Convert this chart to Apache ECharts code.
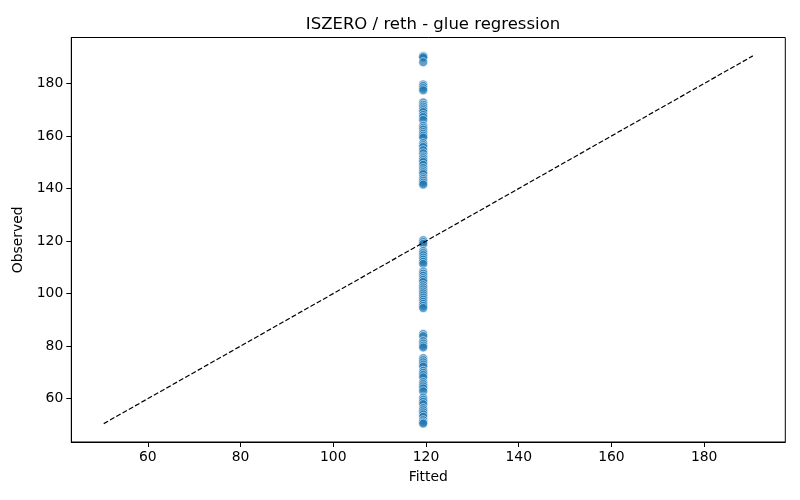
<!DOCTYPE html>
<html>
<head>
<meta charset="utf-8">
<script src="https://cdn.jsdelivr.net/npm/echarts@6/dist/echarts.min.js"></script>
<style>html,body{margin:0;padding:0;background:#fff}#c{width:800px;height:500px}</style>
</head>
<body>
<div id="c"></div>
<script>
const fittedValue = 119.4;
const observed = [
  190.5, 190.2, 189.9, 188.1,
  179.6, 179.0, 178.2, 177.4,
  172.8, 171.9, 171.2, 170.5, 169.8, 169.1, 168.0, 167.2, 166.1, 163.9, 163.1, 162.4,
  161.5, 160.8, 160.1, 159.4, 157.3, 156.5, 155.8, 154.6, 153.4, 152.2, 151.5, 150.8,
  150.1, 149.0, 147.8, 146.9, 146.2, 145.5, 144.3, 143.6, 142.9, 142.2, 141.5,
  120.3, 119.6, 118.9, 116.2, 115.4, 114.6, 113.7, 112.9, 112.1, 111.3, 108.4, 107.6,
  106.8, 105.9, 105.2, 104.4, 103.2, 102.4, 101.6, 100.8, 100.1, 99.3, 98.5, 97.7,
  96.9, 96.1, 95.3, 94.5,
  84.6, 83.8, 81.9, 81.0, 80.2, 79.5,
  75.4, 74.6, 73.8, 73.0, 72.2, 70.6, 69.8, 69.0, 68.1, 66.3, 65.5, 64.7, 63.9, 62.8,
  60.4, 59.6, 58.8, 57.9, 56.4, 55.6, 54.8, 54.0, 53.1, 51.8, 51.0, 50.5
];
// identity reference line endpoints (min and max of observed)
const refLine = [[50.5, 50.5], [190.5, 190.5]];
const xTicks = [60, 80, 100, 120, 140, 160, 180];
const yTicks = [60, 80, 100, 120, 140, 160, 180];
const titleText = 'ISZERO / reth - glue regression';

const font = 'DejaVu Sans';
const chart = echarts.init(document.getElementById('c'), null, {renderer: 'canvas'});
const points = observed.map(v => [fittedValue, v]);

chart.setOption({
  animation: false,
  backgroundColor: '#fff',
  textStyle: {fontFamily: font},
  title: {
    text: titleText,
    left: 428, top: 11, textAlign: 'center',
    textStyle: {fontFamily: font, fontSize: 16.5, fontWeight: 'normal', color: '#000'}
  },
  grid: {left: 71.3, right: 14.7, top: 37.5, bottom: 58, show: true, borderColor: '#000', borderWidth: 1, backgroundColor: 'transparent'},
  xAxis: {
    type: 'value', min: 43.5, max: 197.5,
    name: 'Fitted', nameLocation: 'middle', nameGap: 28,
    nameTextStyle: {fontFamily: font, fontSize: 13.9, color: '#000'},
    axisLine: {show: true, lineStyle: {color: '#000', width: 1}},
    axisTick: {show: true, inside: false, length: 5, lineStyle: {color: '#000', width: 1}, customValues: xTicks},
    axisLabel: {color: '#000', fontFamily: font, fontSize: 13.9, margin: 8, customValues: xTicks},
    splitLine: {show: false}
  },
  yAxis: {
    type: 'value', min: 43.5, max: 197.5,
    name: 'Observed', nameLocation: 'middle', nameGap: 39,
    nameTextStyle: {fontFamily: font, fontSize: 13.9, color: '#000'},
    axisLine: {show: true, lineStyle: {color: '#000', width: 1}},
    axisTick: {show: true, inside: false, length: 5, lineStyle: {color: '#000', width: 1}, customValues: yTicks},
    axisLabel: {color: '#000', fontFamily: font, fontSize: 13.9, margin: 8, customValues: yTicks},
    splitLine: {show: false}
  },
  series: [
    {
      type: 'scatter',
      data: points,
      symbol: 'circle',
      symbolSize: 9,
      itemStyle: {color: '#1f77b4', opacity: 0.7, borderColor: '#ffffff', borderWidth: 0.8},
      z: 2
    },
    {
      type: 'line',
      data: refLine,
      symbol: 'none',
      lineStyle: {color: '#000', width: 1.2, type: [5, 2.2]},
      z: 3
    }
  ]
});
</script>
</body>
</html>
